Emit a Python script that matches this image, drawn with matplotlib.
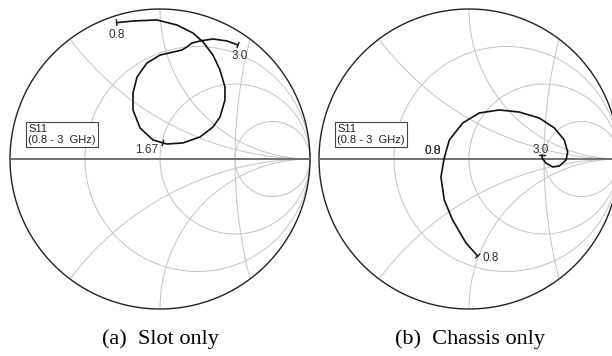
import numpy as np
import matplotlib.pyplot as plt

slot_re = [-0.289, -0.18, -0.02, 0.113, 0.22, 0.287, 0.353, 0.40, 0.433, 0.433,
           0.40, 0.353, 0.267, 0.153, 0.047, 0.02, -0.047, -0.133, -0.18, -0.18,
           -0.153, -0.087, 0.0, 0.087, 0.147, 0.18, 0.213, 0.267, 0.353, 0.447, 0.52]
slot_im = [0.909, 0.92, 0.927, 0.893, 0.84, 0.78, 0.693, 0.593, 0.48, 0.393,
           0.28, 0.213, 0.147, 0.107, 0.10, 0.107, 0.127, 0.207, 0.327, 0.44,
           0.547, 0.64, 0.693, 0.713, 0.727, 0.747, 0.773, 0.787, 0.80, 0.787, 0.76]

chassis_re = [0.058, -0.02, -0.109, -0.165, -0.187, -0.165, -0.131, -0.042, 0.069,
              0.202, 0.335, 0.469, 0.569, 0.635, 0.658, 0.647, 0.602, 0.558, 0.513,
              0.487, 0.487]
chassis_im = [-0.647, -0.56, -0.407, -0.273, -0.120, 0.007, 0.127, 0.240, 0.307,
              0.327, 0.313, 0.273, 0.207, 0.127, 0.047, -0.007, -0.047, -0.053,
              -0.027, 0.007, 0.027]

# frequency markers: (index into trace, label)
slot_markers = [(0, "0.8"), (15, "1.67"), (30, "3.0")]
chassis_markers = [(0, "0.8"), (20, "3.0")]

r_values = [1 / 3, 1, 3]
x_values = [0.5, 1, -0.5, -1]

captions = ["(a)  Slot only", "(b)  Chassis only"]
legend_text = "S11\n(0.8 - 3  GHz)"

W, H = 612, 356
fig = plt.figure(figsize=(W / 100, H / 100), dpi=100)

LIM = 1.05
R = 150  # chart radius in px


def make_ax(cx, cy):
    half = R * LIM
    ax = fig.add_axes([(cx - half) / W, 1 - (cy + half) / H, 2 * half / W, 2 * half / H])
    ax.set_xlim(-LIM, LIM)
    ax.set_ylim(-LIM, LIM)
    ax.set_aspect('equal')
    ax.axis('off')
    return ax


def smith_grid(ax):
    t = np.linspace(0, 2 * np.pi, 800)
    gc = '#c4c4c4'
    for r in r_values:
        c, rad = r / (1 + r), 1 / (1 + r)
        ax.plot(c + rad * np.cos(t), rad * np.sin(t), color=gc, lw=0.7)
    for x in x_values:
        rad = 1 / abs(x)
        px = 1 + rad * np.cos(t)
        py = 1 / x + rad * np.sin(t)
        m = px ** 2 + py ** 2 <= 1.0001
        px[~m] = np.nan
        ax.plot(px, py, color=gc, lw=0.7)
    # the near-vertical arc through gamma = 0.5
    px = 3.75 + 3.25 * np.cos(t)
    py = 3.25 * np.sin(t)
    m = px ** 2 + py ** 2 <= 1.0001
    px[~m] = np.nan
    ax.plot(px, py, color=gc, lw=0.7)
    ax.plot(np.cos(t), np.sin(t), color='#222222', lw=1.0)
    ax.plot([-1, 1], [0, 0], color='#666666', lw=1.3)


def add_legend(ax):
    ax.text(-0.88, 0.235, legend_text, fontsize=8, family='Liberation Sans',
            color='#222222', ha='left', va='top', linespacing=1.2,
            bbox=dict(boxstyle='square,pad=0.18', fc='white', ec='#444444', lw=0.8))


def ticks(ax, re, im, markers):
    for i, _ in markers:
        j = i + 1 if i == 0 else i - 1
        dx, dy = re[i] - re[j], im[i] - im[j]
        n = np.hypot(dx, dy)
        nx, ny = -dy / n * 0.018, dx / n * 0.018
        ax.plot([re[i] - nx, re[i] + nx], [im[i] - ny, im[i] + ny], color='#222222', lw=1.0)


lab = dict(fontsize=8.5, family='Liberation Sans', color='#333333')

# left chart
ax1 = make_ax(160, 159)
smith_grid(ax1)
ax1.plot(slot_re, slot_im, color='#111111', lw=1.2)
ticks(ax1, slot_re, slot_im, slot_markers)
ax1.text(slot_re[0], slot_im[0] - 0.04, slot_markers[0][1], ha='center', va='top', **lab)
ax1.text(slot_re[15] - 0.03, slot_im[15] - 0.01, slot_markers[1][1], ha='right', va='top', **lab)
ax1.text(slot_re[30] + 0.01, slot_im[30] - 0.035, slot_markers[2][1], ha='center', va='top', **lab)
add_legend(ax1)

# right chart
ax2 = make_ax(469, 159)
smith_grid(ax2)
ax2.plot(chassis_re, chassis_im, color='#111111', lw=1.2)
ticks(ax2, chassis_re, chassis_im, chassis_markers)
ax2.text(chassis_re[0] + 0.03, chassis_im[0] - 0.01, chassis_markers[0][1], ha='left', va='center', **lab)
ax2.text(chassis_re[20] - 0.01, chassis_im[20] - 0.005, chassis_markers[1][1], ha='center', va='bottom', **lab)
# overlapping labels at the real-axis crossing
ax2.text(-0.24, 0.055, "0.8", ha='center', va='center', **lab)
ax2.text(-0.24, 0.055, "0.0", ha='center', va='center', **lab)
add_legend(ax2)

fig.text(160 / W, 1 - 339 / H, captions[0], ha='center', va='center',
         fontsize=16, family='Liberation Serif')
fig.text(470 / W, 1 - 339 / H, captions[1], ha='center', va='center',
         fontsize=16, family='Liberation Serif')

fig.savefig('out.png', dpi=100, facecolor='white')
